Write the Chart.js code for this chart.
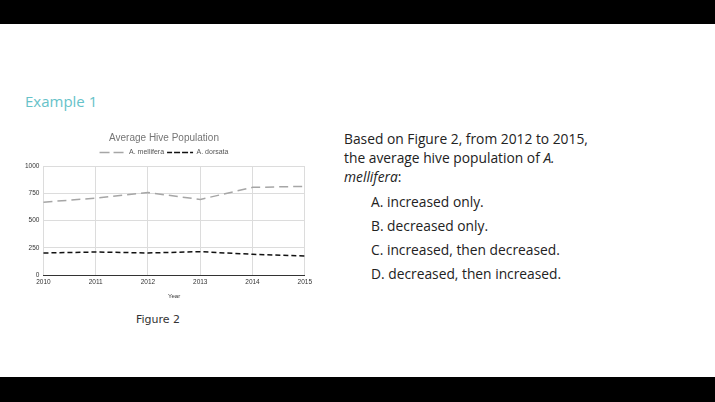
<!DOCTYPE html>
<html>
<head>
<meta charset="utf-8">
<script src="https://cdn.jsdelivr.net/npm/chart.js@4"></script>
<style>
  body { margin: 0; width: 715px; height: 402px; background: #fff; position: relative; overflow: hidden; font-family: "Open Sans", sans-serif; }
  .bar { position: absolute; left: 0; width: 715px; background: #000; }
  #wrap { position: absolute; left: 21px; top: 130px; width: 294px; height: 174px; }
  .txt { position: absolute; color: #222; font-size: 13.8px; }
</style>
</head>
<body>
<div class="bar" style="top:0;height:24px"></div>
<div class="bar" style="top:377px;height:25px"></div>
<div style="position:absolute;left:25px;top:91px;color:#66c2c9;font-size:15px;">Example 1</div>

<div id="wrap"><canvas id="grafico"></canvas></div>
<div style="position:absolute;left:136px;top:313px;font-size:11px;color:#333;font-family:'DejaVu Sans',sans-serif;">Figure 2</div>

<div class="txt" style="left:344px;top:129px;line-height:19px;">Based on Figure 2, from 2012 to 2015,<br>the average hive population of <i>A.</i><br><i>mellifera</i>:</div>
<div class="txt" style="left:371px;top:190px;line-height:24px;">A. increased only.<br>B. decreased only.<br>C. increased, then decreased.<br>D. decreased, then increased.</div>

<script>
// valores
const anos = ['2010', '2011', '2012', '2013', '2014', '2015'];
const mellifera = [668, 705, 756, 693, 804, 813];
const dorsata = [202, 211, 202, 214, 190, 175];
const ticksY = [0, 250, 500, 750, 1000];

const fonte = 'Arial, "Liberation Sans", sans-serif';
const ctx = document.getElementById('grafico').getContext('2d');

const meuGrafico = new Chart(ctx, {
  type: 'line',
  data: {
    labels: anos,
    datasets: [{
      label: 'A. mellifera',
      data: mellifera,
      borderColor: '#a6a6a6',
      backgroundColor: 'transparent',
      borderWidth: 1.5,
      borderDash: [9, 5],
      pointRadius: 0,
      tension: 0
    }, {
      label: 'A. dorsata',
      data: dorsata,
      borderColor: '#111',
      backgroundColor: 'transparent',
      borderWidth: 1.5,
      borderDash: [5, 3],
      pointRadius: 0,
      tension: 0
    }]
  },
  options: {
    responsive: true,
    maintainAspectRatio: false,
    animation: false,
    layout: { padding: { left: 0, right: 8, top: 0, bottom: 0 } },
    plugins: {
      title: {
        display: true,
        text: 'Average Hive Population',
        color: '#757575',
        font: { family: fonte, size: 10, weight: 'normal' },
        padding: { top: 2, bottom: 2 }
      },
      legend: {
        labels: {
          boxWidth: 26,
          boxHeight: 0,
          color: '#555',
          font: { family: fonte, size: 7 },
          padding: 3
        }
      },
      tooltip: { enabled: false }
    },
    scales: {
      x: {
        grid: { color: '#dcdcdc', drawTicks: false },
        border: { color: '#333' },
        ticks: { color: '#333', font: { family: fonte, size: 6.5 }, padding: 3, maxRotation: 0 },
        title: { display: true, text: 'Year', color: '#333', font: { family: fonte, size: 6 }, padding: { top: 4 } }
      },
      y: {
        min: 0,
        max: 1000,
        afterBuildTicks: (axis) => { axis.ticks = ticksY.map(v => ({ value: v })); },
        grid: { color: '#dcdcdc', drawTicks: false },
        border: { display: false },
        ticks: { color: '#333', font: { family: fonte, size: 6.5 }, padding: 4, callback: (v) => String(v) }
      }
    }
  }
});
</script>
</body>
</html>
